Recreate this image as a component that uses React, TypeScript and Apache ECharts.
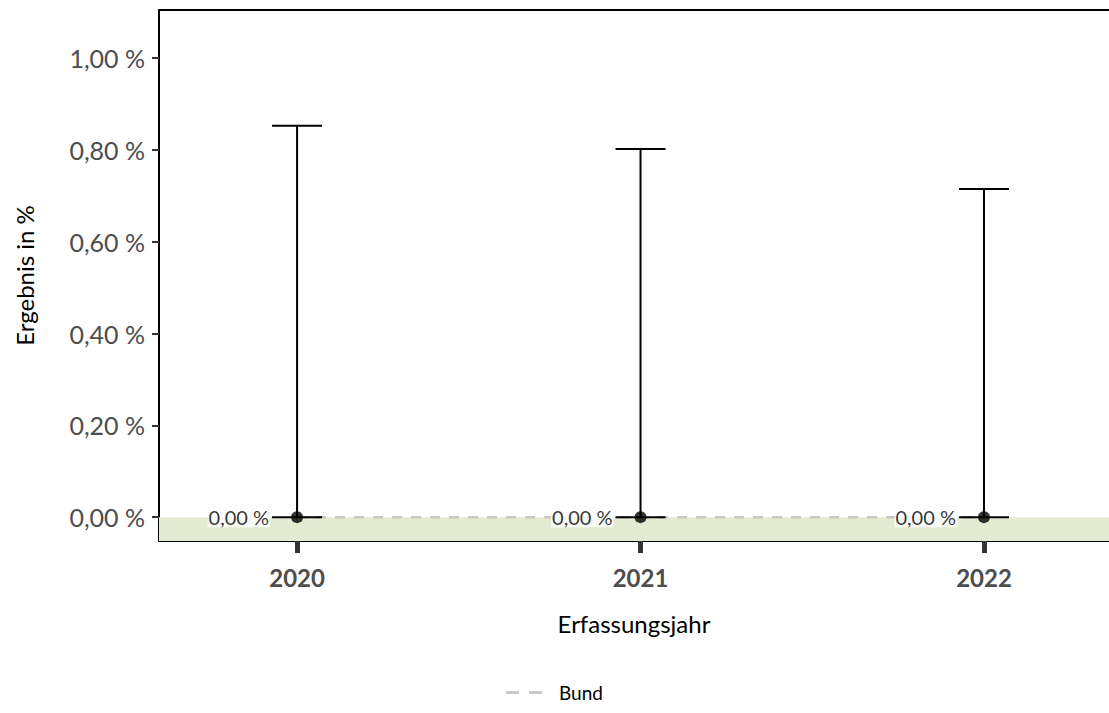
import React, { useEffect, useRef } from "react";
import * as echarts from "echarts";

const years = [2020, 2021, 2022];
const values = [0, 0, 0];
const lower = [0, 0, 0];
const upper = [0.853, 0.802, 0.715];
const bund = [0, 0, 0];
const yTicks = [0, 0.2, 0.4, 0.6, 0.8, 1.0];

const FONT = "Lato, 'Open Sans', sans-serif";
const fmt = (v: number) => v.toFixed(2).replace(".", ",") + " %";

export default function App() {
  const ref = useRef<HTMLDivElement>(null);
  useEffect(() => {
    const chart = echarts.init(ref.current!, null, { renderer: "svg" });
    const errData = years.map((y, i) => [y, lower[i], upper[i]]);
    chart.setOption({
      animation: false,
      textStyle: { fontFamily: FONT },
      grid: { left: 159, top: 10, right: 0, bottom: 172 },
      legend: {
        top: 683,
        left: "center",
        padding: 0,
        data: [{ name: "Bund", icon: "path://M0,0 L13,0 L13,3 L0,3 Z M23,0 L36,0 L36,3 L23,3 Z" }],
        itemWidth: 36,
        itemHeight: 3,
        itemGap: 10,
        textStyle: { fontSize: 19, color: "#000", fontFamily: FONT, padding: [0, 0, 0, 12] },
      },
      xAxis: [
        {
          type: "value",
          min: 2019.598,
          max: 2022.364,
          name: "Erfassungsjahr",
          nameLocation: "middle",
          nameGap: 70,
          nameTextStyle: { fontSize: 24, color: "#000", fontFamily: FONT },
          splitLine: { show: false },
          axisLine: { show: true, onZero: false, lineStyle: { color: "#000", width: 2 } },
          axisTick: { show: true, customValues: years, length: 12, lineStyle: { color: "#333", width: 5 } },
          axisLabel: { customValues: years, margin: 24, fontSize: 24, fontWeight: "bold", color: "#4d4d4d", formatter: (v: number) => String(v), fontFamily: FONT },
        },
        {
          type: "value",
          position: "top",
          min: 2019.598,
          max: 2022.364,
          splitLine: { show: false },
          axisLine: { show: true, onZero: false, lineStyle: { color: "#000", width: 2 } },
          axisTick: { show: false },
          axisLabel: { show: false },
        },
      ],
      yAxis: {
        type: "value",
        min: -0.052,
        max: 1.105,
        name: "Ergebnis in %",
        nameLocation: "middle",
        nameGap: 123,
        nameTextStyle: { fontSize: 24, color: "#000", fontFamily: FONT },
        splitLine: { show: false },
        axisLine: { show: true, onZero: false, lineStyle: { color: "#000", width: 2 } },
        axisTick: { show: true, customValues: yTicks, length: 7, lineStyle: { color: "#333", width: 2 } },
        axisLabel: { customValues: yTicks, margin: 14, fontSize: 25, color: "#4d4d4d", formatter: (v: number) => fmt(v), fontFamily: FONT },
      },
      series: [
        {
          name: "Band",
          type: "line",
          data: [],
          markArea: {
            silent: true,
            itemStyle: { color: "#e3ebd2" },
            data: [[{ yAxis: -0.052 }, { yAxis: 0 }]],
          },
        },
        {
          name: "Bund",
          type: "line",
          data: years.map((y, i) => [y, bund[i]]),
          symbol: "none",
          lineStyle: { color: "#c8c8c8", width: 2.5, type: [10, 9] },
          itemStyle: { color: "#c8c8c8" },
          z: 2,
        },
        {
          name: "err",
          type: "custom",
          data: errData,
          z: 3,
          renderItem: (params: any, api: any) => {
            const x = api.value(0);
            const lo = api.coord([x, api.value(1)]);
            const hi = api.coord([x, api.value(2)]);
            const hw = 25;
            const style = { stroke: "#000", lineWidth: 2 };
            return {
              type: "group",
              children: [
                { type: "line", shape: { x1: lo[0], y1: lo[1], x2: hi[0], y2: hi[1] }, style },
                { type: "line", shape: { x1: hi[0] - hw, y1: hi[1], x2: hi[0] + hw, y2: hi[1] }, style },
                { type: "line", shape: { x1: lo[0] - hw, y1: lo[1], x2: lo[0] + hw, y2: lo[1] }, style },
              ],
            };
          },
        },
        {
          name: "Wert",
          type: "scatter",
          data: years.map((y, i) => [y, values[i]]),
          symbolSize: 12,
          itemStyle: { color: "#000" },
          z: 4,
          label: {
            show: true,
            position: "left",
            distance: 21,
            fontSize: 20,
            color: "#000",
            fontFamily: FONT,
            backgroundColor: "#fff",
            padding: [0, 1],
            formatter: (p: any) => fmt(p.value[1]),
          },
        },
      ],
    });
    return () => chart.dispose();
  }, []);
  return <div ref={ref} style={{ width: 1109, height: 713, position: "absolute", left: 0, top: 0 }} />;
}
